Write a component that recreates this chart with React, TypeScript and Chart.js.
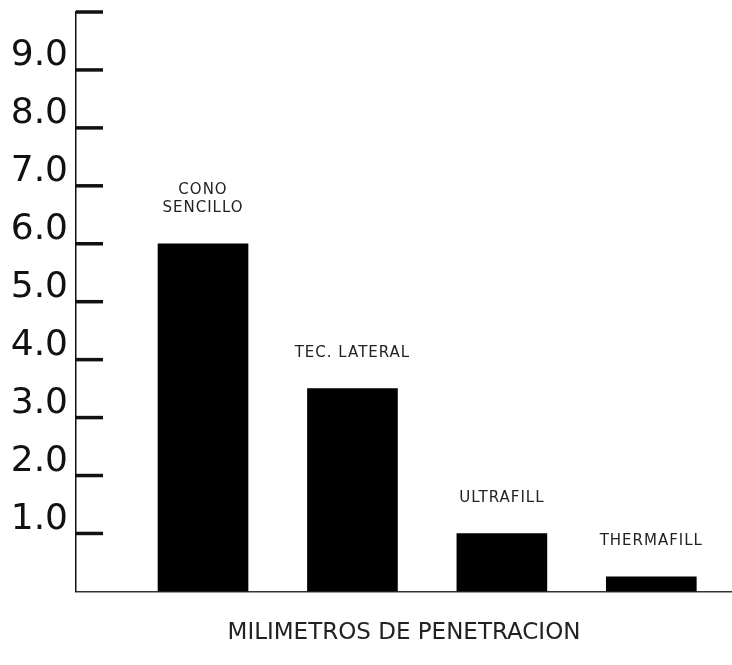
import React, { useEffect, useRef } from "react";
import { Chart, registerables } from "chart.js";

Chart.register(...registerables);

const categoryLabels: string[][] = [["CONO", "SENCILLO"], ["TEC. LATERAL"], ["ULTRAFILL"], ["THERMAFILL"]];
const penetrationMm: number[] = [6.0, 3.5, 1.0, 0.25];
const yTickValues: number[] = [1, 2, 3, 4, 5, 6, 7, 8, 9, 10];
const yLabeledTicks: number[] = [1, 2, 3, 4, 5, 6, 7, 8, 9];
const xAxisTitle = "MILIMETROS DE PENETRACION";

const INK = "#111111";

const tickMarksPlugin = {
  id: "tickMarks",
  afterDraw(chart: any) {
    const ctx = chart.ctx;
    const y = chart.scales.y;
    const left = chart.chartArea.left;
    ctx.save();
    ctx.strokeStyle = INK;
    ctx.lineWidth = 3.5;
    yTickValues.forEach((v) => {
      const py = y.getPixelForValue(v);
      ctx.beginPath();
      ctx.moveTo(left, py);
      ctx.lineTo(left + 27, py);
      ctx.stroke();
    });
    ctx.restore();
  },
};

const barLabelsPlugin = {
  id: "barLabels",
  afterDatasetsDraw(chart: any) {
    const ctx = chart.ctx;
    const meta = chart.getDatasetMeta(0);
    ctx.save();
    ctx.fillStyle = "#222222";
    ctx.font = "15px 'DejaVu Sans'";
    try {
      (ctx as any).letterSpacing = "1px";
    } catch (e) {}
    ctx.textAlign = "center";
    ctx.textBaseline = "bottom";
    meta.data.forEach((el: any, i: number) => {
      const lines = categoryLabels[i];
      const lh = 18;
      lines.forEach((line, j) => {
        const yy = el.y - 28 - (lines.length - 1 - j) * lh;
        ctx.fillText(line, el.x, yy);
      });
    });
    ctx.restore();
  },
};

export default function App() {
  const ref = useRef<HTMLCanvasElement | null>(null);
  useEffect(() => {
    if (!ref.current) return;
    const chart = new Chart(ref.current, {
      type: "bar",
      data: {
        datasets: [
          {
            data: penetrationMm.map((v, i) => ({ x: i, y: v })),
            backgroundColor: "#000000",
            borderWidth: 0,
            barThickness: 90,
          },
        ],
      },
      options: {
        responsive: false,
        animation: false,
        devicePixelRatio: 1,
        layout: { padding: { top: 12, left: 0, right: 0, bottom: 18 } },
        plugins: { legend: { display: false }, tooltip: { enabled: false } },
        scales: {
          x: {
            type: "linear",
            min: -0.85,
            max: 3.54,
            offset: false,
            grid: { display: false, drawTicks: false },
            border: { display: true, color: "#333333", width: 1.5, dash: [7, 3] },
            ticks: { display: false },
            title: {
              display: true,
              text: xAxisTitle,
              color: "#222222",
              font: { family: "'DejaVu Sans'", size: 23, weight: "normal" },
              padding: { top: 28, bottom: 0 },
            },
          },
          y: {
            min: 0,
            max: 10,
            grid: { display: false, drawTicks: false },
            border: { display: true, color: INK, width: 1.5 },
            afterFit: (s: any) => {
              s.width = 76;
              s.paddingTop = 0;
              s.paddingBottom = 0;
            },
            ticks: {
              stepSize: 1,
              autoSkip: false,
              padding: 8,
              labelOffset: -14,
              color: INK,
              font: { family: "'DejaVu Sans'", size: 36, weight: "normal" },
              callback: (v: any) => (yLabeledTicks.includes(Number(v)) ? Number(v).toFixed(1) : ""),
            },
          },
        },
      },
      plugins: [tickMarksPlugin, barLabelsPlugin],
    });
    return () => chart.destroy();
  }, []);
  return (
    <div style={{ position: "fixed", left: 0, top: 0, width: 732, height: 665, background: "#fff" }}>
      <canvas ref={ref} width={732} height={665} />
    </div>
  );
}
